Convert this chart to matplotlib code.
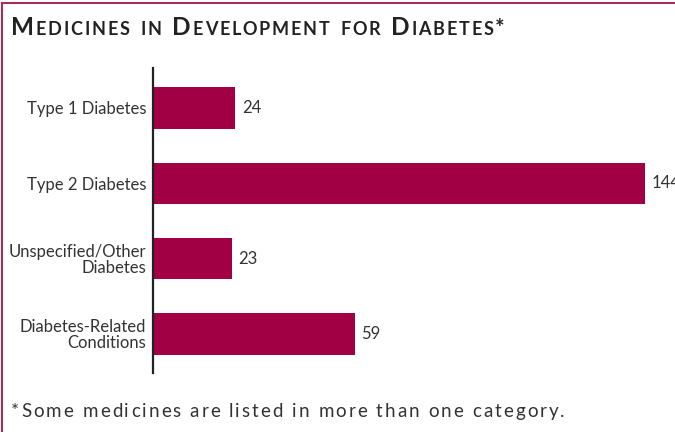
import matplotlib
matplotlib.use("Agg")
import matplotlib.pyplot as plt
from matplotlib.lines import Line2D

categories = ["Type 1 Diabetes", "Type 2 Diabetes", "Unspecified/Other\nDiabetes", "Diabetes-Related\nConditions"]
values = [24, 144, 23, 59]
title_text = "Medicines in Development for Diabetes*"
footnote = "*Some medicines are listed in more than one category."

BAR = "#A10044"
BORDER = "#A3305C"
TXT = "#333333"
FONT = "Lato"

W, H = 675, 432
fig = plt.figure(figsize=(W/100, H/100), dpi=100)
fig.patch.set_facecolor("white")

ax = fig.add_axes([153/W, 1-373/H, (645-153)/W, (373-68)/H])
ypos = list(range(len(categories)))
ax.barh(ypos, values, height=0.55, color=BAR)
ax.set_xlim(0, 144)
ax.set_ylim(3.52, -0.53)
ax.set_yticks(ypos)
ax.set_yticklabels(categories, fontsize=12, color=TXT, family=FONT, linespacing=1.0)
ax.tick_params(axis="y", length=0, pad=5)
ax.set_xticks([])
for s in ["top", "right", "bottom"]:
    ax.spines[s].set_visible(False)
ax.spines["left"].set_linewidth(1.6)
ax.spines["left"].set_color("#222222")
for y, v in zip(ypos, values):
    ax.text(v + 2, y, str(v), va="center", ha="left", fontsize=12, color=TXT,
            family=FONT, clip_on=False)

# border lines
fig.add_artist(Line2D([2/W, 2/W], [0, 1-3/H], color=BORDER, lw=1.5, transform=fig.transFigure))
fig.add_artist(Line2D([2/W, 1], [1-3/H, 1-3/H], color=BORDER, lw=1.5, transform=fig.transFigure))

renderer = fig.canvas.get_renderer()

def tracked(text, x, y, size_fn, track, space, **kw):
    for ch in text:
        if ch == " ":
            x += space
            continue
        s, c = size_fn(ch)
        t = fig.text(x/W, y/H, c, fontsize=s, ha="left", va="baseline", family=FONT, **kw)
        x += t.get_window_extent(renderer).width + track
    return x

# small-caps title
tracked(title_text, 11, H - 35,
        lambda ch: (17.5, ch) if ch.isupper() else ((16, ch) if ch == "*" else (13, ch.upper())),
        1.8, 9, fontweight="bold", color="#222222")

# footnote with letter spacing
tracked(footnote, 11, H - 417, lambda ch: (13.5, ch), 2.0, 7, color=TXT)

fig.savefig("out.png", dpi=100)
